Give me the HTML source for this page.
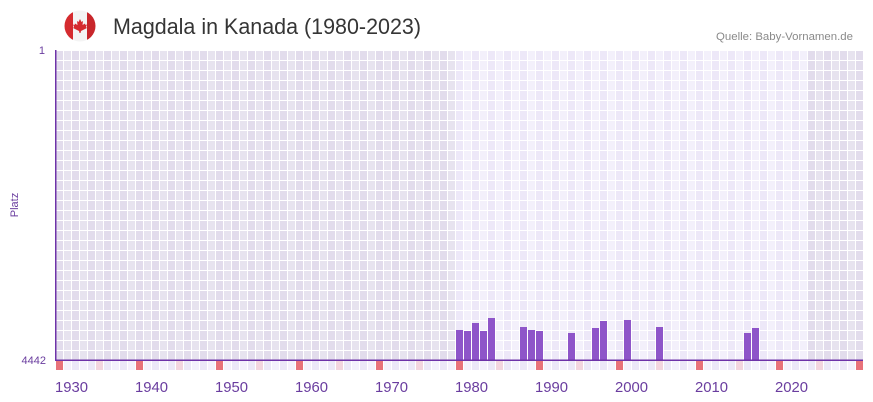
<!DOCTYPE html>
<html><head><meta charset="utf-8"><style>
html,body{margin:0;padding:0;background:#fff;}
svg{display:block;}
</style></head><body>
<svg width="873" height="402" viewBox="0 0 873 402" xmlns="http://www.w3.org/2000/svg">
<defs>
<pattern id="pd" x="56" y="50" width="16" height="10" patternUnits="userSpaceOnUse">
<rect x="0" y="1" width="7" height="9" fill="#e2dcec"/><rect x="8" y="1" width="7" height="9" fill="#e7e3ef"/>
</pattern>
<pattern id="pl" x="56" y="50" width="16" height="10" patternUnits="userSpaceOnUse">
<rect x="0" y="1" width="7" height="9" fill="#ede8f8"/><rect x="8" y="1" width="7" height="9" fill="#f3f0fb"/>
</pattern>
<pattern id="ps" x="56" y="360" width="16" height="11" patternUnits="userSpaceOnUse">
<rect x="0" y="1" width="7" height="9" fill="#ece8f8"/><rect x="8" y="1" width="7" height="9" fill="#f4f1fc"/>
</pattern>
<clipPath id="fc"><circle cx="80" cy="26" r="15.5"/></clipPath>
</defs>
<rect width="873" height="402" fill="#fff"/>
<!-- flag -->
<g clip-path="url(#fc)">
<rect x="63" y="9" width="36" height="35" fill="#f4f4f4"/>
<rect x="63" y="9" width="10" height="35" fill="#d52b2f"/>
<rect x="87" y="9" width="12" height="35" fill="#c8262b"/>
<polygon points="80,19 81.5,22 83,21 82.5,25 85,23.5 85.5,25 87,24.5 86,27 87,28 81,31 80.5,33 79.5,33 79,31 73,28 74,27 73,24.5 74.5,25 75,23.5 77.5,25 77,21 78.5,22" fill="#d52b2f"/>
</g>
<!-- title -->
<text x="113" y="34" font-family="Liberation Sans, sans-serif" font-size="22" fill="#353535" textLength="308" lengthAdjust="spacingAndGlyphs">Magdala in Kanada (1980-2023)</text>
<text x="716" y="40" font-family="Liberation Sans, sans-serif" font-size="11" fill="#8a8a8a" textLength="137" lengthAdjust="spacingAndGlyphs">Quelle: Baby-Vornamen.de</text>
<!-- grid background -->
<rect x="56" y="50" width="400" height="310" fill="url(#pd)"/>
<rect x="456" y="50" width="352" height="310" fill="url(#pl)"/>
<rect x="808" y="50" width="55" height="310" fill="url(#pd)"/>
<rect x="56" y="360" width="807" height="11" fill="url(#ps)"/>
<!-- decade / half-decade markers -->
<g fill="#e8727a">
<rect x="56" y="361" width="7" height="9"/><rect x="136" y="361" width="7" height="9"/><rect x="216" y="361" width="7" height="9"/><rect x="296" y="361" width="7" height="9"/><rect x="376" y="361" width="7" height="9"/><rect x="456" y="361" width="7" height="9"/><rect x="536" y="361" width="7" height="9"/><rect x="616" y="361" width="7" height="9"/><rect x="696" y="361" width="7" height="9"/><rect x="776" y="361" width="7" height="9"/><rect x="856" y="361" width="7" height="9"/>
</g>
<g fill="#f3d5df">
<rect x="96" y="361" width="7" height="9"/><rect x="176" y="361" width="7" height="9"/><rect x="256" y="361" width="7" height="9"/><rect x="336" y="361" width="7" height="9"/><rect x="416" y="361" width="7" height="9"/><rect x="496" y="361" width="7" height="9"/><rect x="576" y="361" width="7" height="9"/><rect x="656" y="361" width="7" height="9"/><rect x="736" y="361" width="7" height="9"/><rect x="816" y="361" width="7" height="9"/>
</g>
<!-- bars -->
<g fill="#8e55c9">
<rect x="456" y="330" width="7" height="30"/>
<rect x="464" y="331" width="7" height="29"/>
<rect x="472" y="323" width="7" height="37"/>
<rect x="480" y="331" width="7" height="29"/>
<rect x="488" y="318" width="7" height="42"/>
<rect x="520" y="327" width="7" height="33"/>
<rect x="528" y="330" width="7" height="30"/>
<rect x="536" y="331" width="7" height="29"/>
<rect x="568" y="333" width="7" height="27"/>
<rect x="592" y="328" width="7" height="32"/>
<rect x="600" y="321" width="7" height="39"/>
<rect x="624" y="320" width="7" height="40"/>
<rect x="656" y="327" width="7" height="33"/>
<rect x="744" y="333" width="7" height="27"/>
<rect x="752" y="328" width="7" height="32"/>
</g>
<!-- axes -->
<rect x="55" y="50" width="1.5" height="311" fill="#6e33a8"/>
<rect x="55" y="359.5" width="808" height="1.5" fill="#6e33a8"/>
<!-- y labels -->
<g font-family="Liberation Sans, sans-serif" font-size="11" fill="#6a3d9f">
<text x="45" y="54" text-anchor="end">1</text>
<text x="46" y="364" text-anchor="end">4442</text>
<text transform="translate(18,205) rotate(-90)" text-anchor="middle">Platz</text>
</g>
<!-- x labels -->
<g font-family="Liberation Sans, sans-serif" font-size="15" fill="#6a3d9f">
<text x="55" y="392" textLength="33" lengthAdjust="spacingAndGlyphs">1930</text>
<text x="135" y="392" textLength="33" lengthAdjust="spacingAndGlyphs">1940</text>
<text x="215" y="392" textLength="33" lengthAdjust="spacingAndGlyphs">1950</text>
<text x="295" y="392" textLength="33" lengthAdjust="spacingAndGlyphs">1960</text>
<text x="375" y="392" textLength="33" lengthAdjust="spacingAndGlyphs">1970</text>
<text x="455" y="392" textLength="33" lengthAdjust="spacingAndGlyphs">1980</text>
<text x="535" y="392" textLength="33" lengthAdjust="spacingAndGlyphs">1990</text>
<text x="615" y="392" textLength="33" lengthAdjust="spacingAndGlyphs">2000</text>
<text x="695" y="392" textLength="33" lengthAdjust="spacingAndGlyphs">2010</text>
<text x="775" y="392" textLength="33" lengthAdjust="spacingAndGlyphs">2020</text>
</g>
</svg>
</body></html>
